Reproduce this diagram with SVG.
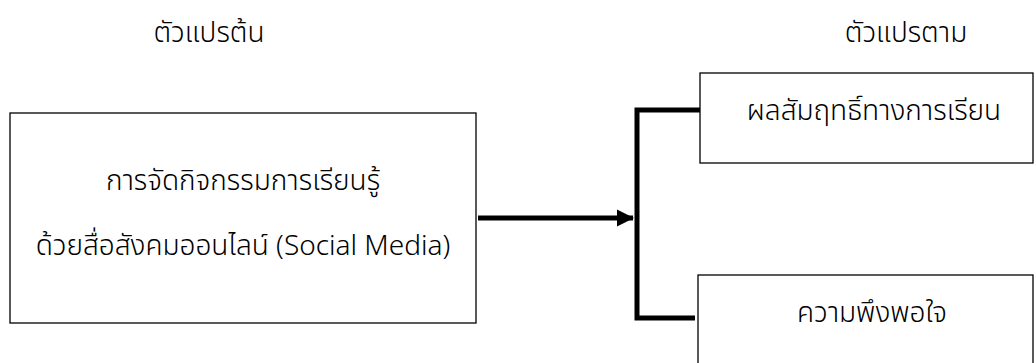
<svg xmlns="http://www.w3.org/2000/svg" width="1036" height="363" viewBox="0 0 1036 363">
<style>
.box{fill:#fff;stroke:#000;stroke-width:1.3}
.t{font-family:"Noto Sans Thai","Noto Sans","DejaVu Sans",sans-serif;font-size:28px;font-weight:300;fill:#000;text-anchor:middle}
.c{fill:none;stroke:#000;stroke-width:5}
</style>
<defs>
<marker id="ah" markerUnits="userSpaceOnUse" markerWidth="18" markerHeight="18" refX="16" refY="9" orient="auto">
<path d="M0,0.5 L17,9 L0,17.5 Z" fill="#000"/>
</marker>
</defs>
<rect width="1036" height="363" fill="#fff"/>
<g id="title-left"><text class="t" x="209" y="42">ตัวแปรต้น</text></g>
<g id="title-right"><text class="t" x="906" y="42">ตัวแปรตาม</text></g>
<g id="node-independent">
<rect class="box" x="10" y="113" width="466" height="210"/>
<text class="t" x="243" y="190">การจัดกิจกรรมการเรียนรู้</text>
<text class="t" x="243" y="255">ด้วยสื่อสังคมออนไลน์ (Social Media)</text>
</g>
<g id="node-achievement">
<rect class="box" x="700" y="73" width="333" height="90"/>
<text class="t" x="874" y="120">ผลสัมฤทธิ์ทางการเรียน</text>
</g>
<g id="node-satisfaction">
<rect class="box" x="698" y="275" width="335" height="100"/>
<text class="t" x="872" y="322">ความพึงพอใจ</text>
</g>
<g id="connectors">
<line class="c" x1="478" y1="218" x2="633" y2="218" marker-end="url(#ah)"/>
<path class="c" d="M700,110 H637 V318 H695" stroke-linejoin="miter"/>
</g>
</svg>
